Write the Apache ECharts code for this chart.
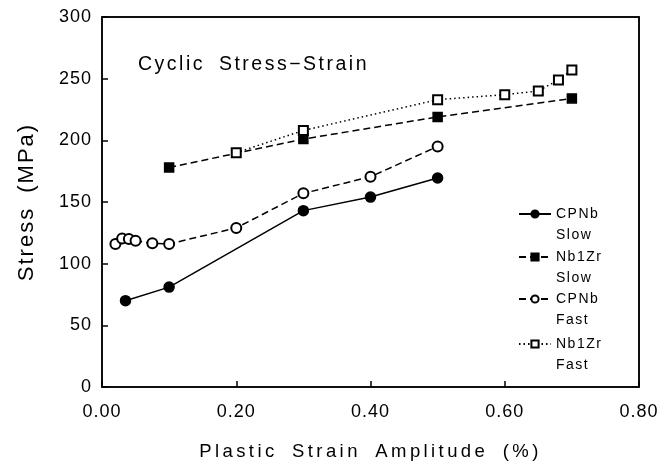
<!DOCTYPE html>
<html><head><meta charset="utf-8">
<script src="https://cdn.jsdelivr.net/npm/echarts@6/dist/echarts.min.js"></script>
<style>
html,body{margin:0;padding:0;background:#fff;}
#main{width:671px;height:469px;}
</style>
</head><body><div id="main"></div>
<script>
// ---- data ----
const titleText = 'Cyclic Stress\u2212Strain';
const xName = 'Plastic Strain Amplitude (%)';
const yName = 'Stress (MPa)';
const xTickLabels = ['0.00', '0.20', '0.40', '0.60', '0.80'];
const yTickLabels = ['0', '50', '100', '150', '200', '250', '300'];
const seriesNames = ['CPNb Slow', 'Nb1Zr Slow', 'CPNb Fast', 'Nb1Zr Fast'];

const cpnbSlowX = [0.035, 0.10, 0.30, 0.40, 0.50];
const cpnbSlowY = [70, 81, 143, 154, 169.5];

const nb1zrSlowX = [0.10, 0.30, 0.50, 0.70];
const nb1zrSlowY = [178, 201, 219, 234];

const cpnbFastX = [0.02, 0.03, 0.04, 0.05, 0.075, 0.10, 0.20, 0.30, 0.40, 0.50];
const cpnbFastY = [116, 120.5, 120, 118.5, 116.5, 116, 129, 157, 170.5, 195];

const nb1zrFastX = [0.20, 0.30, 0.50, 0.60, 0.65, 0.68, 0.70];
const nb1zrFastY = [190, 208, 233, 237, 240, 249, 257];

// ---- letter spacing per font size (canvas) ----
const SPACING = { '19.5px': '2.5px', '18.5px': '3.4px', '22px': '2px', '14px': '1.5px', '18px': '1px' };
(function () {
  const P = CanvasRenderingContext2D.prototype;
  const orig = P.fillText;
  P.fillText = function (t, x, y, w) {
    let ls = '0px';
    for (const k in SPACING) { if (this.font.indexOf(k) >= 0) { ls = SPACING[k]; break; } }
    if ('letterSpacing' in this) this.letterSpacing = ls;
    if ('wordSpacing' in this) this.wordSpacing = (ls === '0px' || ls === '1px' || ls === '1.5px') ? '0px' : '6px';
    const r = orig.call(this, t, x, y, w);
    if ('letterSpacing' in this) this.letterSpacing = '0px';
    if ('wordSpacing' in this) this.wordSpacing = '0px';
    return r;
  };
})();

// ---- chart ----
const FONT = 'Liberation Sans';
const zip = (xs, ys) => xs.map((x, i) => [x, ys[i]]);
const legendCenters = [214, 257, 299, 344];

const mkSeries = (name, xs, ys, symbol, size, dash) => ({
  name: name, type: 'line', data: zip(xs, ys),
  symbol: symbol, symbolSize: size,
  lineStyle: { color: '#000', width: 1.5, type: dash },
  itemStyle: { color: '#000', borderColor: '#000', borderWidth: 1.5 },
  emphasis: { disabled: true },
  silent: true
});

const frameAxis = (pos, min, max, interval) => ({
  type: 'value', position: pos, min: min, max: max, interval: interval, show: true,
  axisLine: { show: true, onZero: false, lineStyle: { color: '#000', width: 1.5 } },
  axisTick: { show: false }, axisLabel: { show: false }, splitLine: { show: false }
});

const chart = echarts.init(document.getElementById('main'), null, { renderer: 'canvas' });
chart.setOption({
  animation: false,
  backgroundColor: '#fff',
  textStyle: { fontFamily: FONT, color: '#000' },
  title: {
    text: titleText, left: 138, top: 55, padding: 0,
    textStyle: { fontSize: 19.5, fontWeight: 'normal', color: '#000', fontFamily: FONT }
  },
  grid: {
    left: 102, right: 32, top: 17, bottom: 82,
    show: true, borderColor: '#000', borderWidth: 1.5, containLabel: false, outerBoundsMode: 'none'
  },
  xAxis: [{
    type: 'value', min: 0, max: 0.8, interval: 0.2, show: true,
    name: xName, nameLocation: 'middle', nameGap: 55,
    nameTextStyle: { fontSize: 18.5, color: '#000', fontFamily: FONT },
    axisLine: { show: true, onZero: false, lineStyle: { color: '#000', width: 1.5 } },
    axisTick: { show: true, inside: true, length: 6, lineStyle: { color: '#000', width: 1.5 } },
    axisLabel: { fontSize: 18, color: '#000', margin: 16, fontFamily: FONT,
      formatter: (v, i) => xTickLabels[i] },
    splitLine: { show: false }
  }, frameAxis('top', 0, 0.8, 0.2)],
  yAxis: [{
    type: 'value', min: 0, max: 300, interval: 50, show: true,
    name: yName, nameLocation: 'middle', nameGap: 64,
    nameTextStyle: { fontSize: 22, color: '#000', fontFamily: FONT },
    axisLine: { show: true, onZero: false, lineStyle: { color: '#000', width: 1.5 } },
    axisTick: { show: true, inside: true, length: 6, lineStyle: { color: '#000', width: 1.5 } },
    axisLabel: { fontSize: 18, color: '#000', margin: 10, fontFamily: FONT,
      formatter: (v, i) => yTickLabels[i] },
    splitLine: { show: false }
  }, frameAxis('right', 0, 300, 50)],
  legend: seriesNames.map((n, i) => ({
    data: [n], left: 518, top: legendCenters[i] - 31.5, padding: 0,
    orient: 'vertical', itemWidth: 32, itemHeight: 9, selectedMode: false,
    formatter: name => '\n' + name.replace(' ', '\n'),
    textStyle: { fontSize: 14, lineHeight: 21, color: '#000', fontFamily: FONT }
  })),
  series: [
    mkSeries(seriesNames[0], cpnbSlowX, cpnbSlowY, 'circle', 10, 'solid'),
    mkSeries(seriesNames[1], nb1zrSlowX, nb1zrSlowY, 'rect', 9, [7, 4]),
    mkSeries(seriesNames[2], cpnbFastX, cpnbFastY, 'emptyCircle', 10, [7, 4]),
    mkSeries(seriesNames[3], nb1zrFastX, nb1zrFastY, 'emptyRect', 9, [1.5, 3])
  ]
});
</script>
</body></html>
